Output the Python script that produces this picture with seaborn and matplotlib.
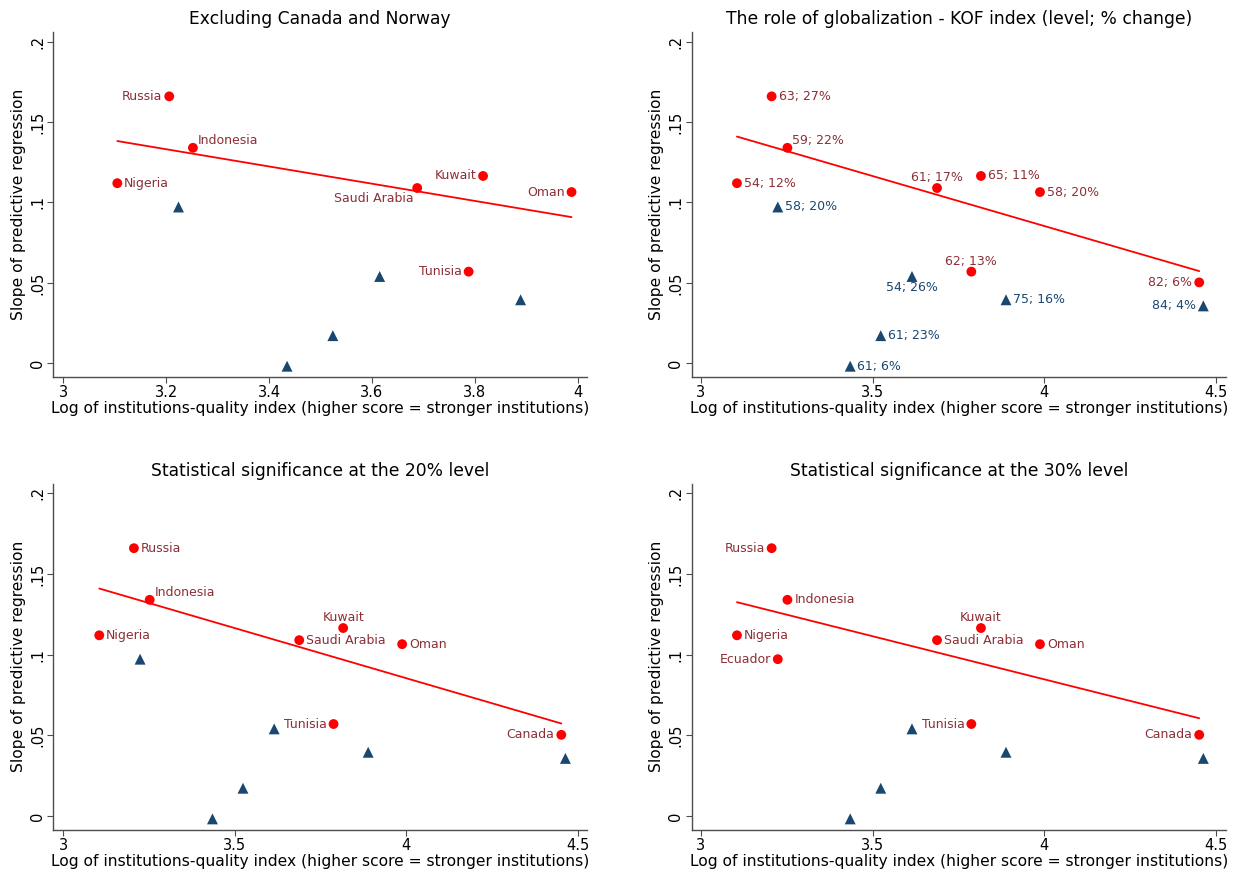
import numpy as np
import pandas as pd
import matplotlib
matplotlib.use("Agg")
import matplotlib.pyplot as plt
import seaborn as sns

# ---------------- data ----------------
countries = ["Nigeria", "Russia", "Indonesia", "Saudi Arabia", "Kuwait", "Tunisia",
             "Oman", "Canada", "Ecuador", "Other A", "Other B", "Other C", "Other D", "Norway"]
inst_index = [3.105, 3.206, 3.252, 3.688, 3.816, 3.788, 3.988, 4.452,
              3.224, 3.435, 3.524, 3.615, 3.889, 4.464]
slope = [0.112, 0.166, 0.134, 0.109, 0.1165, 0.057, 0.1065, 0.0503,
         0.0972, -0.0018, 0.0172, 0.0540, 0.0395, 0.0357]
kof_labels = ["54; 12%", "63; 27%", "59; 22%", "61; 17%", "65; 11%", "62; 13%",
              "58; 20%", "82; 6%", "58; 20%", "61; 6%", "61; 23%", "54; 26%",
              "75; 16%", "84; 4%"]
sig_20 = [True, True, True, True, True, True, True, True,
          False, False, False, False, False, False]
sig_30 = [True, True, True, True, True, True, True, True,
          True, False, False, False, False, False]
excluded_p1 = ["Canada", "Norway"]

titles = ["Excluding Canada and Norway",
          "The role of globalization - KOF index (level; % change)",
          "Statistical significance at the 20% level",
          "Statistical significance at the 30% level"]
xlabel = "Log of institutions-quality index (higher score = stronger institutions)"
ylabel = "Slope of predictive regression"
yticks = [0, 0.05, 0.1, 0.15, 0.2]
ytick_labels = ["0", ".05", ".1", ".15", ".2"]
xticks_p1 = [3, 3.2, 3.4, 3.6, 3.8, 4]
xticks_other = [3, 3.5, 4, 4.5]

df = pd.DataFrame({"country": countries, "x": inst_index, "y": slope,
                   "kof": kof_labels, "sig20": sig_20, "sig30": sig_30})

# ---------------- styles ----------------
RED = "#ff0000"
LABEL_RED = "#8c2f36"
NAVY = "#1a476f"
AXIS_COL = "#4d4d4d"

# clock positions of marker labels (Stata style), offsets in points
CLOCK = {
    3: ((5, 0), "left"),
    9: ((-5, 0), "right"),
    12: ((0, 7.5), "center"),
    6: ((0, -8), "center"),
    1: ((3.5, 5.5), "left"),
    7: ((-2.5, -7.5), "right"),
}
pos_p1 = {"Nigeria": 3, "Russia": 9, "Indonesia": 1, "Saudi Arabia": 7,
          "Kuwait": 9, "Tunisia": 9, "Oman": 9}
pos_p2 = {"Nigeria": 3, "Russia": 3, "Indonesia": 1, "Saudi Arabia": 12,
          "Kuwait": 3, "Tunisia": 12, "Oman": 3, "Canada": 9, "Ecuador": 3,
          "Other A": 3, "Other B": 3, "Other C": 6, "Other D": 3, "Norway": 9}
pos_p3 = {"Nigeria": 3, "Russia": 3, "Indonesia": 1, "Saudi Arabia": 3,
          "Kuwait": 12, "Tunisia": 9, "Oman": 3, "Canada": 9}
pos_p4 = {"Nigeria": 3, "Russia": 9, "Indonesia": 3, "Saudi Arabia": 3,
          "Kuwait": 12, "Tunisia": 9, "Oman": 3, "Canada": 9, "Ecuador": 9}

sns.set_theme(style="ticks")
plt.rcParams["font.family"] = ["DejaVu Sans"]
plt.rcParams["text.color"] = "black"
plt.rcParams["axes.labelcolor"] = "black"
plt.rcParams["xtick.labelcolor"] = "black"
plt.rcParams["ytick.labelcolor"] = "black"

fig = plt.figure(figsize=(12.34, 8.73), dpi=100)
rects = [[0.0432, 0.5685, 0.4325, 0.3948],
         [0.5605, 0.5685, 0.4330, 0.3948],
         [0.0432, 0.0498, 0.4325, 0.3958],
         [0.5605, 0.0498, 0.4330, 0.3958]]
xlims = [(2.9806, 4.0181), (2.973, 4.530), (2.971, 4.527), (2.973, 4.530)]
ylims = [(-0.00833, 0.206), (-0.00833, 0.206), (-0.0084, 0.2058), (-0.0084, 0.2058)]


def label_points(ax, sub, positions, text_col, color):
    for _, r in sub.iterrows():
        if r["country"] not in positions:
            continue
        (dx, dy), ha = CLOCK[positions[r["country"]]]
        ax.annotate(r[text_col], (r["x"], r["y"]), xytext=(dx, dy),
                    textcoords="offset points", ha=ha, va="center",
                    fontsize=9, color=color)


def panel(i, red, blue, positions, text_col, xticks):
    ax = fig.add_axes(rects[i])
    sns.regplot(data=red, x="x", y="y", scatter=False, ci=None, truncate=True,
                color=RED, line_kws={"lw": 1.3}, ax=ax)
    sns.scatterplot(data=blue, x="x", y="y", marker="^", color=NAVY, s=62,
                    edgecolor="none", ax=ax, zorder=3)
    sns.scatterplot(data=red, x="x", y="y", marker="o", color=RED, s=50,
                    edgecolor="none", ax=ax, zorder=4)
    label_points(ax, red, positions, text_col, LABEL_RED)
    label_points(ax, blue, positions, text_col, NAVY)
    ax.set_xlim(*xlims[i])
    ax.set_ylim(*ylims[i])
    ax.set_xticks(xticks)
    ax.set_xticklabels([f"{t:g}" for t in xticks])
    ax.set_yticks(yticks)
    ax.set_yticklabels(ytick_labels, rotation=90, va="center")
    ax.set_title(titles[i], fontsize=12.3, pad=6, color="black")
    ax.set_xlabel(xlabel, fontsize=11.2, labelpad=1)
    ax.set_ylabel(ylabel, fontsize=11.2, labelpad=3)
    for s in ["top", "right"]:
        ax.spines[s].set_visible(False)
    for s in ["left", "bottom"]:
        ax.spines[s].set_color(AXIS_COL)
        ax.spines[s].set_linewidth(1.0)
    ax.tick_params(axis="both", length=4, width=0.8, color=AXIS_COL,
                   labelsize=10.5, pad=2)
    ax.set_facecolor("white")
    return ax


# Panel 1: excluding Canada and Norway
d1 = df[~df["country"].isin(excluded_p1)]
panel(0, d1[d1["sig20"]], d1[~d1["sig20"]], pos_p1, "country", xticks_p1)
# Panel 2: KOF labels
panel(1, df[df["sig20"]], df[~df["sig20"]], pos_p2, "kof", xticks_other)
# Panel 3: 20% level
panel(2, df[df["sig20"]], df[~df["sig20"]], pos_p3, "country", xticks_other)
# Panel 4: 30% level
panel(3, df[df["sig30"]], df[~df["sig30"]], pos_p4, "country", xticks_other)

fig.savefig("out.png", dpi=100, facecolor="white")
